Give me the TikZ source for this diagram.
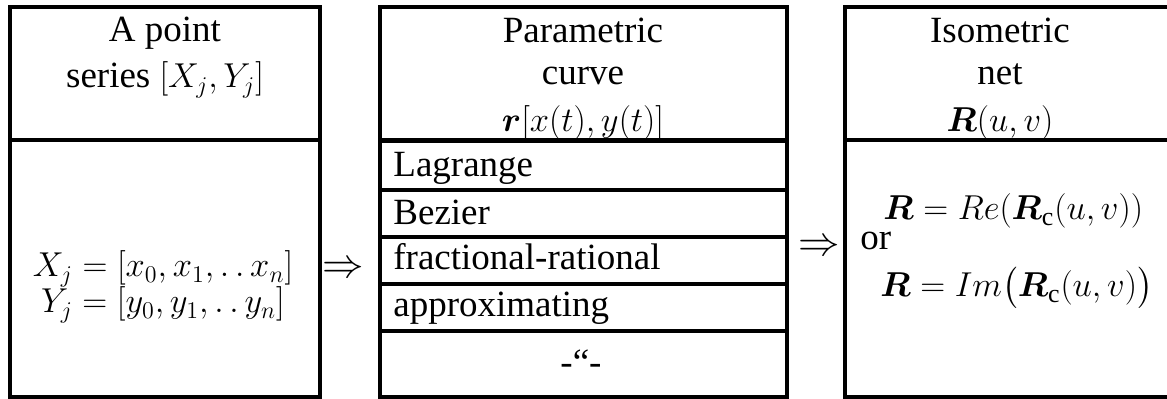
\documentclass[tikz,border=0pt]{standalone}
\usepackage{amsmath}
\usepackage{bm}
\usepackage{fontspec}
\setmainfont{Liberation Serif}
\begin{document}
\begin{tikzpicture}[
  x=0.5pt, y=-0.5pt,
  every node/.style={font=\fontsize{18.5}{23}\selectfont, inner sep=0pt},
  cell/.style={draw, line width=1.9pt},
  txt/.style={anchor=base},
  lbl/.style={anchor=base west},
  implies/.style={anchor=center, font=\fontsize{20}{24}\selectfont}
]
  \useasboundingbox (0,0) rectangle (1167,399);
  \node[cell, minimum width=155pt, minimum height=66.5pt] (headA) at (165,73.5) {};
  \node[cell, minimum width=155pt, minimum height=128.5pt] (bodyA) at (165,268.5) {};
  \node[cell, minimum width=203.5pt, minimum height=66.5pt] (headB) at (583.5,73.5) {};
  \foreach \n/\c/\h in {lag/165.5/24.5, bez/213.5/23.5, frac/260.5/23.5, appr/307.5/23.5, same/364/33}
    \node[cell, minimum width=203.5pt, minimum height=\h pt] (\n) at (583.5,\c) {};
  \node[cell, minimum width=167.5pt, minimum height=66.5pt] (headC) at (1012.5,73.5) {};
  \node[cell, minimum width=167.5pt, minimum height=128.5pt] (bodyC) at (1012.5,268.5) {};

  \node[txt] (tA1) at (165,42) {A point};
  \node[txt] (tA2) at (165,88) {series $[X_j,Y_j]$};
  \node[txt] (tA3) at (163,277) {$X_j=[x_0,x_1,.\,.\,x_n]$};
  \node[txt] (tA4) at (163,313) {$Y_j=[y_0,y_1,.\,.\,y_n]$};
  \node[implies] (arrAB) at (343,270) {$\Rightarrow$};

  \node[txt] (tB1) at (583,43) {Parametric};
  \node[txt] (tB2) at (583,85) {curve};
  \node[txt] (tB3) at (583,132) {$\bm{r}[x(t),y(t)]$};
  \node[lbl] (tLag) at (393,177) {Lagrange};
  \node[lbl] (tBez) at (393,225) {Bezier};
  \node[lbl] (tFrac) at (393,270) {fractional-rational};
  \node[lbl] (tAppr) at (393,317) {approximating};
  \node[txt] (tSame) at (581,375) {-“-};
  \node[implies] (arrBC) at (819,248) {$\Rightarrow$};

  \node[txt] (tC1) at (1000,43) {Isometric};
  \node[txt] (tC2) at (1000,85) {net};
  \node[txt] (tC3) at (1000,132) {$\bm{R}(u,v)$};
  \node[lbl] (tRe) at (883,220) {$\bm{R}=Re(\bm{R}_{\mathrm{c}}(u,v))$};
  \node[lbl] (tOr) at (860,250) {or};
  \node[lbl] (tIm) at (880,297) {$\bm{R}=Im\bigl(\bm{R}_{\mathrm{c}}(u,v)\bigr)$};
\end{tikzpicture}
\end{document}
